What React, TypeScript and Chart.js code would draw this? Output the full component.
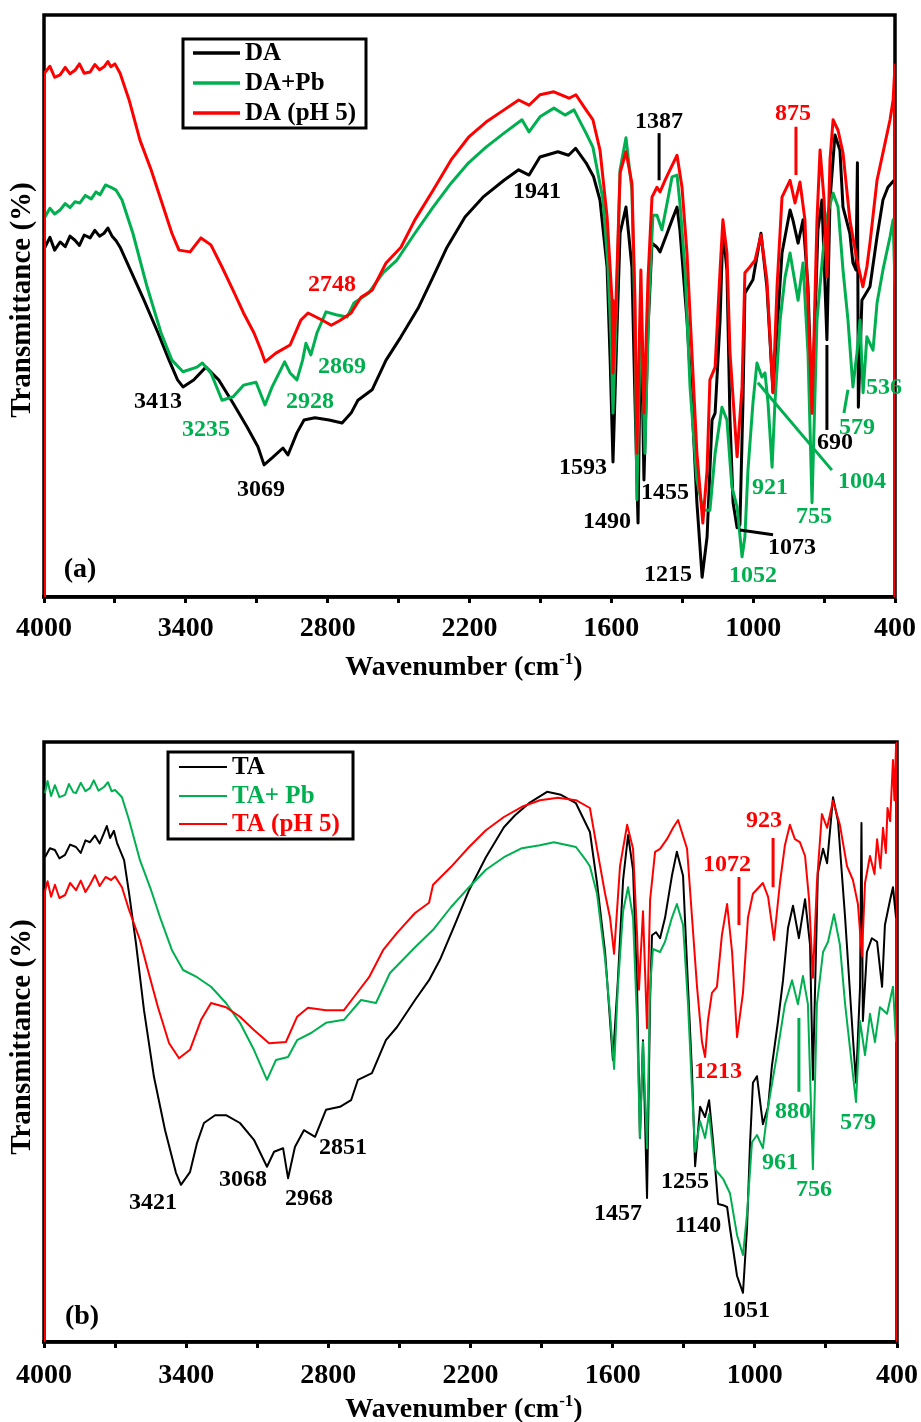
import React, { useEffect, useRef } from "react";
import { Chart, registerables } from "chart.js";

Chart.register(...registerables);

const SERIF = "'Times New Roman', 'Liberation Serif', 'DejaVu Serif', serif";
const COLORS = ["#000000", "#00B050", "#FF0000"];
const PAGE_W = 921;

// x axis ticks (wavenumber, cm-1)
const X_TICKS = [4000, 3700, 3400, 3100, 2800, 2500, 2200, 1900, 1600, 1300, 1000, 700, 400];
const X_TICK_LABELS = [4000, 3400, 2800, 2200, 1600, 1000, 400];

// ---------- Panel (a) ----------
const A_NAMES = ["DA", "DA+Pb", "DA (pH 5)"];

const DA = [
  [3996, 60.1], [3975, 61.8], [3955, 59.6], [3932, 61.0], [3910, 60.2], [3890, 62.0], [3869, 61.3], [3850, 60.4],
  [3830, 62.2], [3805, 61.7], [3785, 63.0], [3765, 62.0], [3746, 62.5], [3730, 63.4], [3712, 62.0], [3695, 61.2],
  [3678, 60.1], [3640, 56.7], [3577, 51.0], [3518, 45.4], [3471, 40.7], [3435, 37.3], [3412, 36.1], [3367, 37.3],
  [3315, 39.5], [3261, 37.3], [3200, 33.3], [3141, 29.2], [3095, 25.8], [3069, 22.7], [3035, 23.9], [2989, 25.6],
  [2968, 24.4], [2930, 28.2], [2900, 30.4], [2854, 30.8], [2794, 30.4], [2739, 29.9], [2701, 31.6], [2672, 33.8],
  [2612, 35.6], [2553, 40.7], [2490, 44.7], [2415, 49.8], [2354, 55.0], [2295, 60.1], [2219, 65.3], [2143, 68.7],
  [2054, 71.6], [1992, 73.4], [1948, 72.5], [1902, 75.6], [1826, 76.5], [1781, 75.9], [1751, 77.1], [1707, 74.6],
  [1675, 72.2], [1648, 68.2], [1618, 56.7], [1605, 40.7], [1593, 23.2], [1580, 40.7], [1563, 62.5], [1538, 67.0],
  [1513, 56.7], [1500, 33.8], [1487, 12.7], [1475, 51.0], [1462, 20.1], [1445, 45.9], [1428, 60.8], [1407, 60.1],
  [1394, 59.3], [1364, 62.5], [1343, 64.8], [1322, 67.0], [1310, 63.1], [1280, 47.6], [1259, 33.3], [1238, 16.2],
  [1216, 3.4], [1195, 10.3], [1174, 30.4], [1161, 31.6], [1140, 47.6], [1128, 63.1], [1111, 56.2], [1098, 30.4],
  [1085, 16.2], [1068, 11.9], [1056, 12.4], [1043, 33.8], [1035, 52.2], [1001, 54.5], [967, 62.5], [942, 53.3],
  [916, 35.1], [878, 59.1], [844, 66.5], [832, 64.8], [810, 60.8], [789, 64.8], [768, 53.3], [751, 31.6],
  [726, 63.1], [709, 68.2], [688, 44.2], [675, 68.2], [654, 79.4], [633, 76.8], [620, 67.0], [591, 62.5],
  [578, 57.4], [565, 56.2], [559, 74.6], [555, 32.6], [540, 51.0], [506, 53.3], [476, 61.9], [451, 68.2],
  [430, 70.4], [404, 71.6],
];

const DA_PB = [
  [3996, 65.3], [3975, 66.8], [3955, 65.8], [3932, 66.5], [3910, 67.6], [3890, 66.9], [3869, 67.9], [3848, 67.7],
  [3825, 69.0], [3800, 68.4], [3780, 69.6], [3763, 69.1], [3740, 70.8], [3717, 70.4], [3695, 69.9], [3670, 68.2],
  [3624, 62.5], [3564, 53.3], [3505, 45.4], [3459, 40.7], [3412, 38.7], [3353, 39.5], [3330, 40.2], [3294, 38.5],
  [3247, 33.8], [3200, 34.4], [3156, 36.4], [3103, 36.9], [3065, 33.0], [3035, 36.1], [2982, 40.4], [2959, 38.5],
  [2930, 37.3], [2906, 40.7], [2892, 43.6], [2871, 41.6], [2845, 45.4], [2807, 49.0], [2765, 48.5], [2718, 48.1],
  [2689, 50.5], [2627, 52.2], [2566, 55.7], [2507, 57.9], [2431, 62.5], [2354, 67.0], [2278, 71.1], [2204, 74.6],
  [2130, 77.3], [2054, 79.7], [1978, 82.0], [1948, 79.9], [1902, 82.5], [1843, 84.0], [1796, 82.8], [1758, 83.7],
  [1707, 79.7], [1678, 77.3], [1635, 68.2], [1614, 56.7], [1601, 44.2], [1593, 31.6], [1580, 47.6], [1563, 73.4],
  [1538, 78.9], [1513, 69.9], [1500, 47.6], [1492, 16.7], [1475, 51.0], [1458, 24.7], [1441, 51.0], [1424, 65.6],
  [1407, 65.6], [1386, 63.1], [1364, 67.7], [1343, 72.2], [1322, 72.5], [1310, 67.7], [1288, 56.2], [1267, 36.1],
  [1238, 20.1], [1212, 14.9], [1183, 14.9], [1161, 24.7], [1132, 32.6], [1111, 30.4], [1090, 18.9], [1068, 15.5],
  [1047, 6.9], [1035, 10.3], [1022, 21.8], [1001, 33.3], [984, 40.2], [963, 37.8], [950, 38.5], [937, 33.3],
  [920, 22.3], [908, 33.3], [886, 47.6], [865, 55.0], [844, 59.1], [832, 56.2], [810, 51.0], [789, 57.4],
  [768, 41.9], [751, 16.2], [730, 47.6], [705, 59.1], [684, 66.0], [662, 69.4], [641, 67.0], [620, 56.2],
  [599, 47.6], [578, 36.1], [561, 41.9], [548, 47.6], [535, 35.1], [519, 44.7], [493, 42.4], [476, 50.5],
  [451, 56.2], [421, 61.9], [408, 64.8], [400, 53.3],
];

const DA_PH5 = [
  [4000, 0], [3998, 90.0], [3975, 91.2], [3955, 89.3], [3932, 89.7], [3910, 91.0], [3890, 89.9], [3869, 90.5],
  [3850, 91.6], [3830, 90.0], [3805, 90.2], [3785, 91.5], [3765, 90.6], [3746, 91.1], [3730, 92.0], [3717, 91.1],
  [3700, 91.6], [3678, 90.0], [3640, 85.4], [3594, 78.5], [3547, 73.4], [3505, 68.2], [3459, 62.5], [3429, 59.6],
  [3382, 59.3], [3336, 61.7], [3294, 60.5], [3247, 56.7], [3200, 52.7], [3156, 48.8], [3112, 45.4], [3082, 42.4],
  [3065, 40.4], [3019, 41.9], [2959, 43.3], [2913, 47.6], [2883, 48.8], [2824, 47.6], [2785, 46.7], [2748, 47.5],
  [2701, 48.8], [2659, 51.5], [2612, 52.7], [2553, 57.4], [2490, 60.1], [2431, 64.8], [2354, 69.9], [2278, 75.1],
  [2204, 79.0], [2130, 81.6], [2054, 83.7], [1992, 85.4], [1948, 84.5], [1902, 86.3], [1843, 86.8], [1779, 85.7],
  [1750, 86.3], [1707, 83.7], [1678, 82.0], [1648, 76.8], [1618, 65.3], [1597, 51.0], [1593, 38.5], [1580, 51.0],
  [1563, 72.9], [1538, 76.5], [1513, 71.1], [1500, 51.0], [1492, 24.7], [1475, 56.2], [1462, 31.6], [1445, 54.5],
  [1428, 68.7], [1407, 70.4], [1394, 69.6], [1373, 71.6], [1352, 73.4], [1322, 75.9], [1301, 70.4], [1280, 59.1],
  [1259, 41.9], [1238, 24.7], [1213, 12.7], [1195, 21.8], [1183, 37.3], [1161, 39.5], [1140, 56.2], [1128, 64.8],
  [1111, 59.1], [1098, 41.9], [1068, 24.1], [1047, 36.1], [1035, 55.7], [1014, 56.7], [992, 57.9], [967, 62.2],
  [942, 54.5], [916, 35.1], [899, 53.3], [878, 68.7], [844, 71.6], [823, 67.7], [802, 71.3], [781, 64.8],
  [751, 31.6], [730, 64.8], [717, 76.8], [700, 68.2], [688, 55.0], [675, 75.1], [662, 82.0], [641, 80.2],
  [620, 76.3], [591, 64.8], [561, 57.9], [536, 53.3], [519, 56.7], [506, 60.8], [476, 71.6], [451, 76.3],
  [421, 82.0], [408, 85.4], [400, 91.4], [400, 0],
];

// [text, wavenumber, value, series index for colour]
const A_LABELS = [
  ["3413", 3518, 33.5, 0], ["3235", 3315, 28.7, 1], ["3069", 3082, 18.4, 0], ["2928", 2875, 33.5, 1],
  ["2869", 2739, 39.5, 1], ["2748", 2782, 53.6, 2], ["1941", 1914, 69.6, 0], ["1387", 1398, 81.6, 0],
  ["875", 832, 83.0, 2], ["1593", 1720, 22.2, 0], ["1490", 1618, 12.9, 0], ["1455", 1373, 17.9, 0],
  ["1215", 1360, 3.8, 0], ["1073", 836, 8.4, 0], ["1052", 1001, 3.6, 1], ["921", 929, 18.7, 1],
  ["755", 743, 13.7, 1], ["1004", 540, 19.8, 1], ["690", 654, 26.5, 0], ["579", 561, 29.0, 1],
  ["536", 447, 35.9, 1],
];
// [wn1, val1, wn2, val2, series index]
const A_LEADERS = [
  [1398, 79.7, 1398, 71.6, 0], [819, 80.8, 819, 72.5, 2], [1056, 11.5, 916, 10.7, 0],
  [980, 36.8, 667, 21.8, 1], [688, 43.3, 688, 28.7, 0], [599, 35.6, 616, 31.6, 1],
];

// ---------- Panel (b) ----------
const B_NAMES = ["TA", "TA+ Pb", "TA (pH 5)"];

const TA = [
  [3996, 80.8], [3975, 82.3], [3954, 82.0], [3935, 80.6], [3911, 81.2], [3890, 82.9], [3865, 82.5], [3845, 81.5],
  [3825, 83.6], [3806, 83.3], [3785, 84.4], [3765, 83.1], [3747, 84.8], [3735, 86.0], [3721, 84.0], [3705, 85.2],
  [3692, 83.2], [3662, 80.3], [3641, 74.8], [3612, 66.5], [3578, 55.3], [3536, 44.2], [3489, 35.3], [3443, 28.2],
  [3422, 26.2], [3384, 28.3], [3354, 33.2], [3325, 36.5], [3278, 37.8], [3232, 37.8], [3173, 36.5], [3114, 33.7],
  [3059, 29.2], [3029, 31.7], [2991, 32.3], [2970, 27.3], [2941, 32.5], [2903, 35.3], [2856, 34.2], [2810, 38.7],
  [2751, 39.2], [2704, 40.3], [2675, 43.7], [2616, 44.8], [2557, 50.3], [2510, 52.5], [2434, 57.0], [2375, 60.3],
  [2329, 63.7], [2270, 69.2], [2206, 75.3], [2135, 80.8], [2059, 85.8], [2012, 87.8], [1953, 89.8], [1877, 91.7],
  [1818, 91.2], [1755, 89.8], [1696, 85.0], [1666, 76.5], [1632, 65.0], [1611, 53.5], [1599, 47.0], [1578, 60.3],
  [1556, 77.0], [1535, 84.5], [1514, 78.7], [1497, 59.2], [1485, 34.0], [1472, 50.3], [1455, 24.0], [1442, 57.0],
  [1434, 67.8], [1417, 68.3], [1400, 67.3], [1379, 70.7], [1350, 77.7], [1329, 81.7], [1303, 77.7], [1282, 59.2],
  [1265, 44.8], [1252, 29.3], [1231, 39.2], [1210, 37.5], [1193, 40.3], [1176, 33.3], [1155, 23.0], [1134, 22.8],
  [1117, 22.5], [1105, 19.0], [1075, 11.0], [1050, 8.2], [1033, 19.0], [1020, 33.3], [1008, 43.2], [991, 44.3],
  [966, 36.3], [944, 39.2], [928, 46.0], [902, 53.5], [881, 60.3], [860, 69.0], [839, 72.7], [814, 67.3],
  [788, 73.8], [767, 66.2], [755, 43.7], [734, 78.2], [712, 82.2], [695, 79.8], [670, 90.8], [649, 86.8],
  [619, 70.7], [586, 50.7], [573, 43.2], [556, 59.2], [550, 86.5], [544, 53.5], [527, 65.0], [506, 67.3],
  [484, 66.7], [463, 59.2], [451, 69.5], [429, 73.7], [417, 75.8], [404, 70.7],
];

const TA_PB = [
  [3996, 91.5], [3985, 93.5], [3970, 91.0], [3954, 92.8], [3935, 90.8], [3911, 91.2], [3895, 93.0], [3876, 91.6],
  [3865, 91.5], [3845, 93.2], [3825, 91.8], [3806, 92.3], [3790, 93.6], [3770, 91.9], [3747, 92.5], [3730, 93.3],
  [3715, 91.8], [3700, 92.0], [3671, 90.8], [3641, 87.0], [3595, 80.3], [3548, 75.3], [3506, 70.3], [3460, 65.3],
  [3413, 62.0], [3354, 60.8], [3295, 59.2], [3232, 56.5], [3173, 53.2], [3114, 48.7], [3059, 43.7], [3021, 47.0],
  [2970, 47.5], [2932, 50.3], [2873, 51.5], [2810, 53.2], [2734, 53.7], [2662, 57.0], [2599, 56.5], [2540, 61.5],
  [2434, 65.8], [2358, 68.7], [2282, 72.5], [2206, 75.8], [2135, 78.7], [2059, 80.8], [1983, 82.3], [1907, 82.8],
  [1848, 83.3], [1755, 82.5], [1713, 80.3], [1696, 79.3], [1666, 74.7], [1632, 63.8], [1611, 54.7], [1594, 45.5],
  [1578, 59.2], [1556, 71.8], [1535, 75.8], [1514, 70.7], [1497, 53.5], [1485, 34.0], [1472, 50.0], [1455, 32.3],
  [1442, 59.2], [1430, 65.5], [1400, 65.0], [1379, 66.7], [1350, 70.7], [1329, 73.0], [1303, 69.5], [1282, 56.3],
  [1265, 42.0], [1252, 31.7], [1231, 36.8], [1210, 34.0], [1193, 38.0], [1168, 28.8], [1134, 27.2], [1105, 24.8],
  [1075, 17.8], [1050, 14.5], [1033, 21.3], [1012, 33.3], [991, 34.5], [966, 32.3], [944, 39.2], [907, 47.8],
  [873, 56.3], [843, 60.3], [818, 56.3], [797, 61.0], [776, 56.3], [755, 28.8], [738, 56.3], [712, 65.0],
  [691, 66.7], [666, 71.3], [641, 66.2], [619, 56.3], [598, 48.8], [573, 40.0], [556, 53.5], [535, 47.8],
  [514, 54.7], [493, 50.0], [472, 55.8], [442, 54.7], [417, 59.2], [404, 50.0],
];

const TA_PH5 = [
  [4000, 0], [3998, 74.8], [3985, 76.8], [3970, 74.2], [3954, 76.2], [3935, 74.0], [3911, 74.5], [3890, 76.5],
  [3865, 75.3], [3845, 76.9], [3825, 75.0], [3806, 76.2], [3785, 77.8], [3765, 76.0], [3740, 77.5], [3717, 77.0],
  [3700, 77.6], [3671, 75.8], [3641, 72.0], [3595, 67.0], [3565, 62.5], [3519, 55.8], [3472, 49.8], [3430, 47.3],
  [3384, 48.7], [3337, 53.7], [3295, 56.5], [3232, 55.8], [3173, 54.2], [3114, 52.0], [3050, 49.8], [2979, 50.0],
  [2932, 54.2], [2886, 55.7], [2810, 55.3], [2734, 55.3], [2692, 57.5], [2628, 60.8], [2569, 65.3], [2510, 68.2],
  [2434, 71.5], [2375, 73.2], [2358, 76.2], [2282, 79.2], [2206, 82.5], [2135, 85.3], [2059, 87.5], [1983, 89.2],
  [1907, 90.3], [1831, 90.7], [1755, 90.3], [1696, 89.0], [1666, 82.2], [1632, 74.7], [1611, 70.7], [1594, 64.7],
  [1569, 79.3], [1539, 86.2], [1514, 82.2], [1497, 67.8], [1489, 58.7], [1472, 71.8], [1455, 52.3], [1442, 73.7],
  [1421, 81.7], [1400, 82.2], [1371, 83.8], [1345, 85.7], [1324, 87.0], [1286, 82.2], [1265, 70.7], [1244, 59.2],
  [1223, 50.0], [1210, 47.5], [1198, 53.5], [1181, 58.2], [1160, 59.2], [1139, 67.8], [1117, 73.0], [1096, 65.0],
  [1075, 50.8], [1050, 58.2], [1029, 70.7], [1008, 74.7], [966, 76.5], [944, 74.2], [919, 67.0], [894, 76.5],
  [873, 82.8], [852, 86.2], [831, 83.8], [810, 83.3], [788, 81.0], [771, 73.7], [755, 60.7], [738, 76.5],
  [717, 88.0], [695, 85.7], [670, 90.2], [641, 86.2], [611, 79.3], [586, 77.0], [565, 73.0], [548, 64.3],
  [535, 76.5], [514, 81.0], [495, 78.0], [484, 83.8], [470, 79.0], [459, 85.7], [447, 81.5], [440, 89.0],
  [429, 86.8], [417, 97.0], [411, 90.3], [404, 99.5], [400, 100], [400, 0],
];

const B_LABELS = [
  ["3421", 3540, 23.2, 0], ["3068", 3160, 27.0, 0], ["2968", 2882, 23.8, 0], ["2851", 2738, 32.3, 0],
  ["1457", 1578, 21.3, 0], ["1255", 1295, 26.7, 0], ["1140", 1240, 19.3, 0], ["1051", 1037, 5.2, 0],
  ["1213", 1155, 45.0, 2], ["961", 894, 29.8, 1], ["880", 839, 38.3, 1], ["756", 750, 25.3, 1],
  ["579", 565, 36.5, 1], ["1072", 1117, 79.5, 2], ["923", 961, 86.8, 2],
];
const B_LEADERS = [
  [1067, 77.5, 1067, 69.5, 2], [923, 84.0, 923, 75.8, 2], [814, 54.0, 814, 41.7, 1],
];

interface Panel {
  height: number;
  area: { left: number; top: number; right: number; bottom: number };
  names: string[];
  series: number[][][];
  lineWidth: number;
  labels: any[];
  leaders: any[];
  legend: { x: number; y: number; w: number; h: number; lx1: number; lx2: number; tx: number; rows: number[]; colored: boolean; lw: number };
  tag: string;
  tagX: number;
  tagY: number;
  yTitleY: number;
  xTitleBase: number;
  tickPad: number;
}

const PANEL_A: Panel = {
  height: 710,
  area: { left: 44, top: 15, right: 895, bottom: 597 },
  names: A_NAMES,
  series: [DA, DA_PB, DA_PH5],
  lineWidth: 3,
  labels: A_LABELS,
  leaders: A_LEADERS,
  legend: { x: 183, y: 39, w: 183, h: 89, lx1: 193, lx2: 240, tx: 245, rows: [53, 83, 113], colored: false, lw: 3.5 },
  tag: "(a)",
  tagX: 80,
  tagY: 570,
  yTitleY: 300,
  xTitleBase: 675,
  tickPad: 9,
};

const PANEL_B: Panel = {
  height: 712,
  area: { left: 44, top: 32, right: 897, bottom: 632 },
  names: B_NAMES,
  series: [TA, TA_PB, TA_PH5],
  lineWidth: 2,
  labels: B_LABELS,
  leaders: B_LEADERS,
  legend: { x: 168, y: 42, w: 185, h: 87, lx1: 179, lx2: 227, tx: 232, rows: [57, 86, 114], colored: true, lw: 1.8 },
  tag: "(b)",
  tagX: 82,
  tagY: 607,
  yTitleY: 327,
  xTitleBase: 707,
  tickPad: 11,
};

function drawXTitle(ctx: CanvasRenderingContext2D, cx: number, base: number) {
  const main = "Wavenumber (cm";
  const sup = "-1";
  const end = ")";
  ctx.font = `bold 28px ${SERIF}`;
  const w1 = ctx.measureText(main).width;
  const w3 = ctx.measureText(end).width;
  ctx.font = `bold 17px ${SERIF}`;
  const w2 = ctx.measureText(sup).width;
  let x = cx - (w1 + w2 + w3) / 2;
  ctx.textAlign = "left";
  ctx.textBaseline = "alphabetic";
  ctx.fillStyle = "#000";
  ctx.font = `bold 28px ${SERIF}`;
  ctx.fillText(main, x, base);
  x += w1;
  ctx.font = `bold 17px ${SERIF}`;
  ctx.fillText(sup, x, base - 11);
  x += w2;
  ctx.font = `bold 28px ${SERIF}`;
  ctx.fillText(end, x, base);
}

function makeDecor(p: Panel) {
  return {
    id: "decor",
    beforeDatasetsDraw(chart: any) {
      const { ctx, chartArea: a } = chart;
      ctx.save();
      ctx.strokeStyle = "#000";
      ctx.lineWidth = 3.5;
      ctx.strokeRect(a.left, a.top, a.right - a.left, a.bottom - a.top);
      ctx.restore();
    },
    afterDraw(chart: any) {
      const ctx: CanvasRenderingContext2D = chart.ctx;
      const xs = chart.scales.x;
      const ys = chart.scales.y;
      ctx.save();
      // leader lines
      ctx.lineWidth = 3;
      ctx.lineCap = "butt";
      for (const [w1, v1, w2, v2, c] of p.leaders) {
        ctx.strokeStyle = COLORS[c];
        ctx.beginPath();
        ctx.moveTo(xs.getPixelForValue(w1), ys.getPixelForValue(v1));
        ctx.lineTo(xs.getPixelForValue(w2), ys.getPixelForValue(v2));
        ctx.stroke();
      }
      // peak labels
      ctx.font = `bold 24px ${SERIF}`;
      ctx.textAlign = "center";
      ctx.textBaseline = "middle";
      for (const [t, w, v, c] of p.labels) {
        ctx.fillStyle = COLORS[c];
        ctx.fillText(t, xs.getPixelForValue(w), ys.getPixelForValue(v));
      }
      // legend
      const L = p.legend;
      ctx.fillStyle = "#fff";
      ctx.fillRect(L.x, L.y, L.w, L.h);
      ctx.strokeStyle = "#000";
      ctx.lineWidth = 3;
      ctx.strokeRect(L.x, L.y, L.w, L.h);
      ctx.font = `bold 25px ${SERIF}`;
      ctx.textAlign = "left";
      ctx.textBaseline = "middle";
      p.names.forEach((n, i) => {
        const y = L.rows[i];
        ctx.strokeStyle = COLORS[i];
        ctx.lineWidth = L.lw;
        ctx.beginPath();
        ctx.moveTo(L.lx1, y);
        ctx.lineTo(L.lx2, y);
        ctx.stroke();
        ctx.fillStyle = L.colored ? COLORS[i] : "#000";
        ctx.fillText(n, L.tx, y + 1);
      });
      // panel tag
      ctx.font = `bold 28px ${SERIF}`;
      ctx.fillStyle = "#000";
      ctx.textAlign = "center";
      ctx.textBaseline = "middle";
      ctx.fillText(p.tag, p.tagX, p.tagY);
      // y title
      ctx.save();
      ctx.translate(23, p.yTitleY);
      ctx.rotate(-Math.PI / 2);
      ctx.font = `bold 29px ${SERIF}`;
      ctx.textAlign = "center";
      ctx.textBaseline = "middle";
      ctx.fillText("Transmittance (%)", 0, 0);
      ctx.restore();
      // x title
      drawXTitle(ctx, 464, p.xTitleBase);
      ctx.restore();
    },
  };
}

function build(canvas: HTMLCanvasElement, p: Panel) {
  return new Chart(canvas, {
    type: "line",
    data: {
      datasets: p.series.map((d, i) => ({
        label: p.names[i],
        data: d as any,
        borderColor: COLORS[i],
        backgroundColor: COLORS[i],
        borderWidth: p.lineWidth,
        pointRadius: 0,
        tension: 0,
        fill: false,
        order: 2 - i,
        borderJoinStyle: "round" as const,
      })),
    },
    options: {
      responsive: false,
      maintainAspectRatio: false,
      animation: false,
      events: [],
      layout: { padding: { left: p.area.left, top: p.area.top, right: PAGE_W - p.area.right, bottom: 0 } },
      plugins: { legend: { display: false }, tooltip: { enabled: false } },
      scales: {
        x: {
          type: "linear",
          min: 400,
          max: 4000,
          reverse: true,
          afterBuildTicks: (axis: any) => {
            axis.ticks = X_TICKS.map((v) => ({ value: v }));
          },
          afterFit: (scale: any) => {
            scale.height = p.height - p.area.bottom;
            scale.paddingLeft = 0;
            scale.paddingRight = 0;
          },
          ticks: {
            autoSkip: false,
            maxRotation: 0,
            minRotation: 0,
            padding: p.tickPad,
            color: "#000",
            font: { family: SERIF, size: 28, weight: "bold" },
            callback: (v: any) => (X_TICK_LABELS.includes(Number(v)) ? String(v) : ""),
          },
          grid: { display: true, drawOnChartArea: false, drawTicks: true, tickLength: 6, tickWidth: 3, color: "#000" },
          border: { display: true, color: "#000", width: 3.5 },
        },
        y: { display: false, min: 0, max: 100 },
      },
    } as any,
    plugins: [makeDecor(p)],
  });
}

export default function App() {
  const refA = useRef<HTMLCanvasElement>(null);
  const refB = useRef<HTMLCanvasElement>(null);
  useEffect(() => {
    const charts = [build(refA.current!, PANEL_A), build(refB.current!, PANEL_B)];
    return () => charts.forEach((c) => c.destroy());
  }, []);
  return (
    <div style={{ position: "absolute", left: 0, top: 0, width: 921, height: 1422, background: "#fff" }}>
      <canvas ref={refA} width={921} height={710} style={{ position: "absolute", left: 0, top: 0, width: 921, height: 710 }} />
      <canvas ref={refB} width={921} height={712} style={{ position: "absolute", left: 0, top: 710, width: 921, height: 712 }} />
    </div>
  );
}
